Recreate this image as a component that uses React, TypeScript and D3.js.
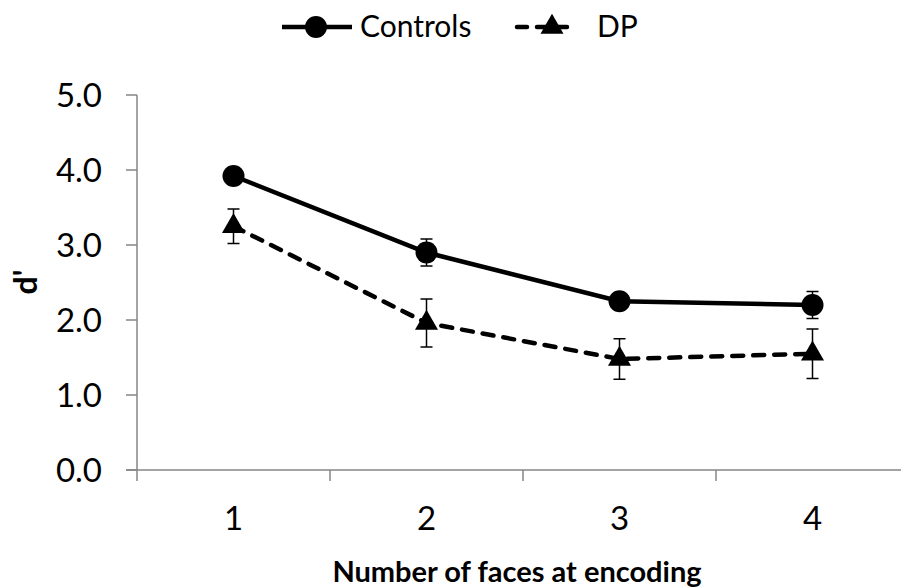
import React from "react";
import * as d3 from "d3";

const categories = ["1", "2", "3", "4"];
const controls = [3.92, 2.9, 2.25, 2.2];
const controlsErr = [0.08, 0.18, 0.1, 0.18];
const dp = [3.25, 1.96, 1.48, 1.55];
const dpErr = [0.23, 0.32, 0.27, 0.33];
const yTicks = [0, 1, 2, 3, 4, 5];

const W = 901;
const H = 588;
const FONT = "Lato, 'Open Sans', sans-serif";
const AXIS = "#868686";

const x = d3.scaleBand().domain(categories).range([137, 137 + 193 * 4]);
const y = d3.scaleLinear().domain([0, 5]).range([470, 95]);

const cx = (c: string) => (x(c) ?? 0) + x.bandwidth() / 2;

const line = d3
  .line<number>()
  .x((_, i) => cx(categories[i]))
  .y((d) => y(d));

const tri = d3.symbol(d3.symbolTriangle, 230);

function ErrorBars({ vals, errs }: { vals: number[]; errs: number[] }) {
  return (
    <g stroke="#000" strokeWidth={1.5}>
      {vals.map((v, i) => {
        const px = cx(categories[i]);
        const top = y(v + errs[i]);
        const bot = y(v - errs[i]);
        return (
          <g key={i}>
            <line x1={px} x2={px} y1={top} y2={bot} />
            <line x1={px - 6} x2={px + 6} y1={top} y2={top} />
            <line x1={px - 6} x2={px + 6} y1={bot} y2={bot} />
          </g>
        );
      })}
    </g>
  );
}

export default function App() {
  return (
    <svg
      width={W}
      height={H}
      style={{ position: "absolute", left: 0, top: 0, background: "#fff" }}
      fontFamily={FONT}
    >
      {/* legend */}
      <g>
        <line x1={282} x2={352} y1={27} y2={27} stroke="#000" strokeWidth={4.5} />
        <circle cx={316} cy={27} r={11} fill="#000" />
        <text x={360} y={37} fontSize={30}>Controls</text>
        <line x1={517} x2={577} y1={27} y2={27} stroke="#000" strokeWidth={4.5} strokeDasharray="10,10" strokeLinecap="round" />
        <path d={tri() ?? ""} transform="translate(552,27)" fill="#000" />
        <text x={597} y={37} fontSize={30}>DP</text>
      </g>

      {/* axes */}
      <g stroke={AXIS} strokeWidth={1.5}>
        <line x1={137} x2={137} y1={95} y2={481} />
        <line x1={126} x2={W} y1={470} y2={470} />
        {yTicks.map((t) => (
          <line key={t} x1={126} x2={137} y1={y(t)} y2={y(t)} />
        ))}
        {categories.map((c) => (
          <line key={c} x1={(x(c) ?? 0) + x.bandwidth()} x2={(x(c) ?? 0) + x.bandwidth()} y1={470} y2={481} />
        ))}
      </g>
      {yTicks.map((t) => (
        <text key={t} x={102} y={y(t) + 12} fontSize={33} textAnchor="end">
          {t.toFixed(1)}
        </text>
      ))}
      {categories.map((c) => (
        <text key={c} x={cx(c)} y={530} fontSize={33} textAnchor="middle">
          {c}
        </text>
      ))}
      <text x={517} y={582} fontSize={29} fontWeight="bold" textAnchor="middle">
        Number of faces at encoding
      </text>
      <text
        transform="translate(37,282) rotate(-90)"
        fontSize={32}
        fontWeight="bold"
        textAnchor="middle"
      >
        d'
      </text>

      {/* series */}
      <ErrorBars vals={controls} errs={controlsErr} />
      <ErrorBars vals={dp} errs={dpErr} />
      <path d={line(controls) ?? ""} fill="none" stroke="#000" strokeWidth={4.5} />
      <path
        d={line(dp) ?? ""}
        fill="none"
        stroke="#000"
        strokeWidth={4.5}
        strokeDasharray="11,10"
        strokeLinecap="round"
      />
      {controls.map((v, i) => (
        <circle key={i} cx={cx(categories[i])} cy={y(v)} r={11} fill="#000" />
      ))}
      {dp.map((v, i) => (
        <path key={i} d={tri() ?? ""} transform={`translate(${cx(categories[i])},${y(v)})`} fill="#000" />
      ))}
    </svg>
  );
}
